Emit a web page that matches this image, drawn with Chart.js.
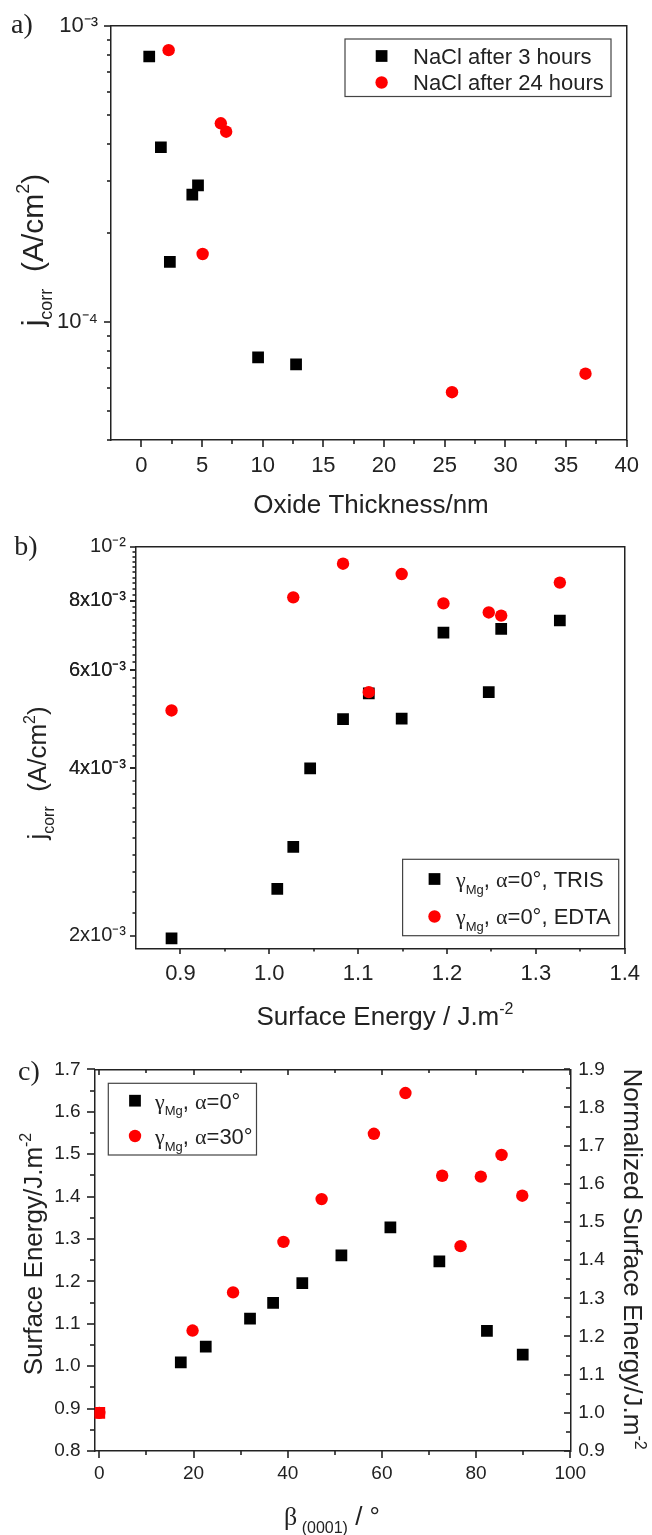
<!DOCTYPE html>
<html>
<head>
<meta charset="utf-8">
<title>Corrosion current and surface energy</title>
<script src="https://cdn.jsdelivr.net/npm/chart.js@4.4.1/dist/chart.umd.min.js"></script>
<style>
  html, body { margin: 0; padding: 0; background: #fff; }
  body { position: relative; width: 652px; height: 1535px; overflow: hidden; }
  canvas { position: absolute; left: 0; }
</style>
</head>
<body>
<canvas id="chartA" width="652" height="520" style="top:0"></canvas>
<canvas id="chartB" width="652" height="520" style="top:520px"></canvas>
<canvas id="chartC" width="652" height="505" style="top:1030px"></canvas>
<script>
// a) corrosion current density vs oxide thickness, NaCl
const thick3h  = [0.65, 1.61, 2.35, 4.2, 4.67, 9.62, 12.75];
const jcorr3h  = [7.9e-4, 3.9e-4, 1.6e-4, 2.7e-4, 2.9e-4, 7.6e-5, 7.2e-5];
const thick24h = [2.25, 6.55, 6.99, 5.05, 25.6, 36.6];
const jcorr24h = [8.3e-4, 4.7e-4, 4.4e-4, 1.7e-4, 5.8e-5, 6.7e-5];
const thickLabels  = [0, 5, 10, 15, 20, 25, 30, 35, 40];
const jcorrLabelsA = [1e-4, 1e-3];

// b) corrosion current density vs surface energy
const energyTris = [0.89, 1.009, 1.027, 1.046, 1.083, 1.112, 1.149, 1.196, 1.247, 1.261, 1.327];
const jcorrTris  = [1.98e-3, 2.43e-3, 2.89e-3, 4.0e-3, 4.9e-3, 5.45e-3, 4.91e-3, 7.01e-3, 5.48e-3, 7.12e-3, 7.37e-3];
const energyEdta = [0.89, 1.027, 1.083, 1.112, 1.149, 1.196, 1.247, 1.261, 1.327];
const jcorrEdta  = [5.08e-3, 8.11e-3, 9.32e-3, 5.48e-3, 8.93e-3, 7.91e-3, 7.62e-3, 7.52e-3, 8.62e-3];
const energyLabelsB = [0.9, 1.0, 1.1, 1.2, 1.3, 1.4];
const jcorrLabelsB  = [2e-3, 4e-3, 6e-3, 8e-3, 1e-2];

// c) surface energy vs basal plane angle
const betaA0    = [0, 17.3, 22.6, 32.0, 36.9, 43.1, 51.4, 61.8, 72.2, 82.3, 89.9];
const energyA0  = [0.89, 1.009, 1.046, 1.112, 1.149, 1.196, 1.261, 1.327, 1.247, 1.083, 1.027];
const betaA30   = [0, 19.8, 28.4, 39.1, 47.2, 58.3, 65.0, 72.8, 76.7, 81.0, 85.4, 89.8];
const energyA30 = [0.89, 1.084, 1.174, 1.293, 1.394, 1.548, 1.644, 1.449, 1.283, 1.447, 1.498, 1.402];
const betaLabels    = [0, 20, 40, 60, 80, 100];
const energyLabelsC = [0.8, 0.9, 1.0, 1.1, 1.2, 1.3, 1.4, 1.5, 1.6, 1.7];
const normLabels    = [0.9, 1.0, 1.1, 1.2, 1.3, 1.4, 1.5, 1.6, 1.7, 1.8, 1.9];

const SANS  = '"Liberation Sans", Arial, sans-serif';
const SERIF = '"Liberation Serif", "Times New Roman", serif';
const INK = '#222';
const RED = 'rgb(255,0,0)';
const BLACK = '#000';

const pts = (xs, ys) => xs.map((x, i) => ({ x, y: ys[i] }));
const range = (a, b, step) => { const out = []; for (let v = a; v <= b + step / 1e6; v += step) out.push(+v.toPrecision(10)); return out; };
const near = (a, b) => Math.abs(a - b) <= Math.abs(b || 1) * 1e-6;
const inList = (v, list) => list.some(m => near(v, m));
const SUP = { '-': '⁻', '0': '⁰', '1': '¹', '2': '²', '3': '³', '4': '⁴', '5': '⁵', '6': '⁶', '7': '⁷', '8': '⁸', '9': '⁹' };
const sup = s => String(s).split('').map(c => SUP[c] || c).join('');

// text with sub/superscript runs, optionally rotated about its centre
function drawRich(ctx, parts, x, y, size, opt = {}) {
  const small = Math.round(size * 0.6);
  const fontOf = p => `${p.sub || p.sup ? small : size}px ${p.serif ? SERIF : SANS}`;
  let total = 0;
  const widths = parts.map(p => { ctx.font = fontOf(p); const w = ctx.measureText(p.t).width; total += w; return w; });
  ctx.save();
  ctx.translate(x, y);
  if (opt.rotate) ctx.rotate(opt.rotate);
  ctx.fillStyle = INK;
  ctx.textBaseline = 'alphabetic';
  ctx.textAlign = 'left';
  let cx = opt.align === 'left' ? 0 : -total / 2;
  const base = size * 0.36;
  parts.forEach((p, i) => {
    ctx.font = fontOf(p);
    const dy = p.sub ? size * 0.3 : p.sup ? -size * 0.45 : 0;
    ctx.fillText(p.t, cx, base + dy);
    cx += widths[i];
  });
  ctx.restore();
}

function drawLegend(chart, lg) {
  const ctx = chart.ctx;
  ctx.save();
  ctx.strokeStyle = '#444';
  ctx.lineWidth = 1.2;
  ctx.strokeRect(lg.box[0], lg.box[1], lg.box[2] - lg.box[0], lg.box[3] - lg.box[1]);
  lg.rows.forEach((row, i) => {
    const ds = chart.data.datasets[i];
    ctx.fillStyle = ds.backgroundColor;
    ctx.strokeStyle = ds.backgroundColor;
    Chart.helpers.drawPoint(ctx, { pointStyle: ds.pointStyle, radius: ds.pointRadius, rotation: 0, borderWidth: 0 }, lg.markerX, lg.rowY[i]);
    drawRich(ctx, row, lg.textX, lg.rowY[i], lg.size, { align: 'left' });
  });
  ctx.restore();
}

// titles, panel letter and legend box
const decor = spec => ({
  id: 'decor',
  afterDraw(chart) {
    spec.texts.forEach(t => drawRich(chart.ctx, t.parts, t.x, t.y, t.size, t));
    drawLegend(chart, spec.legend);
  }
});

// tick marks on the frame edges: long on labelled values, short in between
const tickMarks = marks => ({
  id: 'tickMarks',
  afterDraw(chart) {
    const { ctx, chartArea: ca } = chart;
    ctx.save();
    ctx.setLineDash([]);
    ctx.strokeStyle = INK;
    ctx.lineWidth = 1.6;
    ctx.lineCap = 'butt';
    marks.forEach(m => {
      const scale = chart.scales[m.scale];
      const horiz = scale.isHorizontal();
      const edge = Math.round(ca[m.edge]);
      const out = (m.edge === 'bottom' || m.edge === 'right') ? 1 : -1;
      const dir = m.inward ? -out : out;
      scale.ticks.forEach(t => {
        const len = inList(t.value, m.majors) ? m.len : m.minor;
        const p = Math.round(scale.getPixelForValue(t.value));
        ctx.beginPath();
        if (horiz) { ctx.moveTo(p, edge); ctx.lineTo(p, edge + dir * len); }
        else { ctx.moveTo(edge, p); ctx.lineTo(edge + dir * len, p); }
        ctx.stroke();
      });
    });
    ctx.restore();
  }
});

// axis with labels on the major values only; tick marks come from tickMarks
function axis(o) {
  const all = [...o.majors, ...o.minors].filter(v => v >= o.min && v <= o.max).sort((a, b) => a - b);
  return {
    type: o.type || 'linear', position: o.position, min: o.min, max: o.max, display: true,
    afterBuildTicks: s => { s.ticks = all.map(v => ({ value: v })); },
    afterFit: s => { if (s.isHorizontal()) s.height = o.fit; else s.width = o.fit; },
    ticks: {
      autoSkip: false, maxRotation: 0, padding: o.pad, color: INK,
      font: { family: SANS, size: o.size },
      callback: v => inList(v, o.majors) ? o.format(v) : ''
    },
    grid: { drawOnChartArea: false, drawTicks: false },
    border: { display: true, color: INK, width: 1.5 }
  };
}

// plain border line closing the frame on the top or right
const frame = position => ({
  type: 'linear', position, min: 0, max: 1, display: true,
  afterFit: s => { if (s.isHorizontal()) s.height = 0; else s.width = 0; },
  ticks: { display: false },
  grid: { drawOnChartArea: false, drawTicks: false },
  border: { display: true, color: INK, width: 1.5 }
});

const squares = (label, xs, ys, extra = {}) => Object.assign({
  label, data: pts(xs, ys), pointStyle: 'rect', pointRadius: 8.3, pointHoverRadius: 8.3,
  backgroundColor: BLACK, borderColor: BLACK, borderWidth: 0, showLine: false, order: 1
}, extra);
const circles = (label, xs, ys) => ({
  label, data: pts(xs, ys), pointStyle: 'circle', pointRadius: 6.2, pointHoverRadius: 6.2,
  backgroundColor: RED, borderColor: RED, borderWidth: 0, showLine: false, order: 0
});

function scatter(id, datasets, scales, padding, spec, marks) {
  return new Chart(document.getElementById(id), {
    type: 'scatter',
    data: { datasets },
    options: {
      responsive: false, animation: false, devicePixelRatio: 1, events: [],
      layout: { padding },
      scales,
      plugins: { legend: { display: false }, tooltip: { enabled: false } }
    },
    plugins: [decor(spec), tickMarks(marks)]
  });
}

const logMinors = (decades, lo, hi) => decades.flatMap(d => [2, 3, 4, 5, 6, 7, 8, 9].map(k => +(k * d).toPrecision(6))).filter(v => v >= lo && v <= hi);
const gamma = tail => [{ t: 'γ', serif: true }, { t: 'Mg', sub: true }, { t: ', ' }, { t: 'α', serif: true }, { t: tail }];
const jcorrTitle = [{ t: 'j' }, { t: 'corr', sub: true }, { t: '  (A/cm' }, { t: '2', sup: true }, { t: ')' }];

// ---- a) ----
scatter('chartA',
  [squares('NaCl after 3 hours', thick3h, jcorr3h), circles('NaCl after 24 hours', thick24h, jcorr24h)],
  {
    x: axis({ position: 'bottom', min: -2.5, max: 40, majors: thickLabels, minors: range(2.5, 37.5, 5),
              format: v => String(v), size: 22, pad: 13, fit: 80 }),
    y: axis({ type: 'logarithmic', position: 'left', min: 4e-5, max: 1e-3, majors: jcorrLabelsA,
              minors: logMinors([1e-5, 1e-4], 4e-5, 1e-3),
              format: v => '10' + sup(Math.round(Math.log10(v))), size: 22, pad: 13, fit: 111 }),
    xTop: frame('top'),
    yRight: frame('right')
  },
  { top: 22, right: 21, left: 0, bottom: 0 },
  {
    texts: [
      { parts: [{ t: 'a)', serif: true }], x: 22, y: 23, size: 28 },
      { parts: [{ t: 'Oxide Thickness/nm' }], x: 371, y: 504, size: 26 },
      { parts: jcorrTitle, x: 32, y: 250, size: 30, rotate: -Math.PI / 2 }
    ],
    legend: {
      box: [345, 39, 611, 96.5], markerX: 381.6, rowY: [56, 82.5], textX: 413, size: 22,
      rows: [[{ t: 'NaCl after 3 hours' }], [{ t: 'NaCl after 24 hours' }]]
    }
  },
  [
    { scale: 'x', edge: 'bottom', len: 7, minor: 4, majors: thickLabels },
    { scale: 'y', edge: 'left', len: 7, minor: 4, majors: jcorrLabelsA }
  ]);

// ---- b) ----
scatter('chartB',
  [squares('TRIS', energyTris, jcorrTris), circles('EDTA', energyEdta, jcorrEdta)],
  {
    x: axis({ position: 'bottom', min: 0.85, max: 1.4, majors: energyLabelsB, minors: range(0.95, 1.35, 0.1),
              format: v => v.toFixed(1), size: 22, pad: 12, fit: 520 - 428.3 }),
    y: axis({ type: 'logarithmic', position: 'left', min: 1.9e-3, max: 1e-2, majors: jcorrLabelsB,
              minors: range(2.2e-3, 9.8e-3, 2e-4),
              format: v => near(v, 1e-2) ? '10' + sup(-2) : Math.round(v * 1e3) + 'x10' + sup(-3),
              size: 20, pad: 10, fit: 136 }),
    xTop: frame('top'),
    yRight: frame('right')
  },
  { top: 26.7, right: 18.3, left: 0, bottom: 0 },
  {
    texts: [
      { parts: [{ t: 'b)', serif: true }], x: 26, y: 25, size: 28 },
      { parts: [{ t: 'Surface Energy / J.m' }, { t: '-2', sup: true }], x: 385, y: 496, size: 26 },
      { parts: jcorrTitle, x: 37, y: 253, size: 26, rotate: -Math.PI / 2 }
    ],
    legend: {
      box: [402.6, 339.3, 618.7, 415.7], markerX: 434.5, rowY: [359, 396.5], textX: 456, size: 22,
      rows: [gamma('=0°, TRIS'), gamma('=0°, EDTA')]
    }
  },
  [
    { scale: 'x', edge: 'bottom', len: 6, minor: 3.5, majors: energyLabelsB },
    { scale: 'y', edge: 'left', len: 6, minor: 3.5, majors: jcorrLabelsB }
  ]);

// ---- c) ----
scatter('chartC',
  [squares('α=0°', betaA0, energyA0, { pointBackgroundColor: c => c.dataIndex === 0 ? RED : BLACK }),
   circles('α=30°', betaA30, energyA30)],
  {
    x: axis({ position: 'bottom', min: -1, max: 100, majors: betaLabels, minors: range(10, 90, 20),
              format: v => String(v), size: 19, pad: 11, fit: 84 }),
    y: axis({ position: 'left', min: 0.8, max: 1.7, majors: energyLabelsC, minors: range(0.85, 1.65, 0.1),
              format: v => v.toFixed(1), size: 19, pad: 14, fit: 94.6 }),
    y2: axis({ position: 'right', min: 0.9, max: 1.9, majors: normLabels, minors: range(0.95, 1.85, 0.1),
               format: v => v.toFixed(1), size: 19, pad: 8, fit: 652 - 570.3 }),
    xTop: frame('top')
  },
  { top: 39.3, right: 0, left: 0, bottom: 0 },
  {
    texts: [
      { parts: [{ t: 'c)', serif: true }], x: 29, y: 40, size: 28 },
      { parts: [{ t: 'β', serif: true }, { t: ' (0001)', sub: true }, { t: ' / °' }], x: 332, y: 486, size: 26 },
      { parts: [{ t: 'Surface Energy/J.m' }, { t: '-2', sup: true }], x: 33, y: 224, size: 26, rotate: -Math.PI / 2 },
      { parts: [{ t: 'Normalized Surface Energy/J.m' }, { t: '-2', sup: true }], x: 633, y: 229, size: 26, rotate: Math.PI / 2 }
    ],
    legend: {
      box: [108.3, 53.3, 256.5, 125], markerX: 135, rowY: [70.7, 106], textX: 155, size: 22,
      rows: [gamma('=0°'), gamma('=30°')]
    }
  },
  [
    { scale: 'x', edge: 'bottom', len: 7, minor: 4, majors: betaLabels },
    { scale: 'x', edge: 'top', len: 6, minor: 4, majors: betaLabels, inward: true },
    { scale: 'y', edge: 'left', len: 8, minor: 5, majors: energyLabelsC },
    { scale: 'y2', edge: 'right', len: 6, minor: 4, majors: normLabels, inward: true }
  ]);
</script>
</body>
</html>
